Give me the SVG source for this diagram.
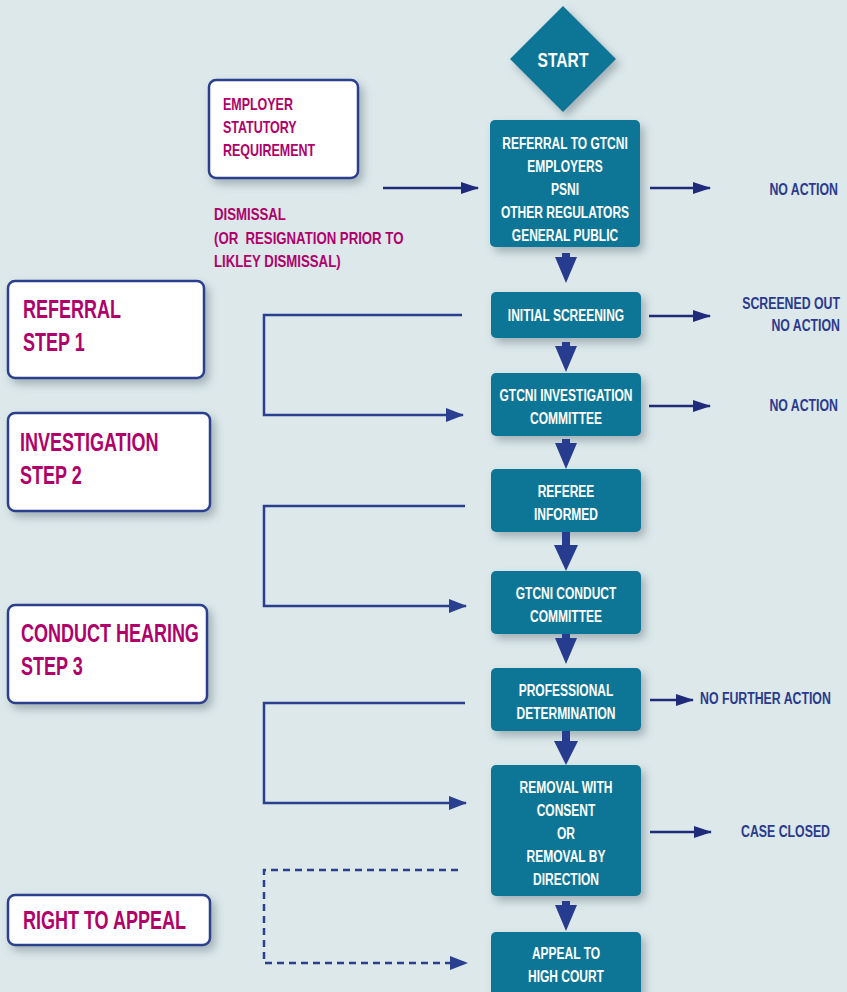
<svg xmlns="http://www.w3.org/2000/svg" width="847" height="992" viewBox="0 0 847 992">
<defs>
<filter id="sh" x="-20%" y="-20%" width="150%" height="150%">
<feDropShadow dx="4" dy="5" stdDeviation="4" flood-color="#5a7078" flood-opacity="0.45"/>
</filter>
<marker id="ah" viewBox="0 0 18 12" refX="17" refY="6" markerWidth="18" markerHeight="12" markerUnits="userSpaceOnUse" orient="auto">
<path d="M0,0 L18,6 L0,12 Z" fill="#1f2b7a"/>
</marker>
<marker id="ab" viewBox="0 0 18 14" refX="17" refY="7" markerWidth="18" markerHeight="14" markerUnits="userSpaceOnUse" orient="auto">
<path d="M0,0 L18,7 L0,14 Z" fill="#2a3f8f"/>
</marker>
<path id="dn" d="M-4,0 L4,0 L4,4 L11,4 L0,30 L-11,4 L-4,4 Z"/>
<style>
.t{font-family:"Liberation Sans",Arial,sans-serif;font-weight:bold;}
.tb{fill:#0b7696;filter:url(#sh);}
.tw{fill:#ffffff;font-size:16px;text-anchor:middle;}
.wb{fill:#ffffff;stroke:#2a3f8f;stroke-width:2.5;filter:url(#sh);}
.mg{fill:#b0006a;}
.nv{fill:#2b3a8c;font-size:16px;}
.ra{stroke:#1f2b7a;stroke-width:2.5;fill:none;marker-end:url(#ah);}
.br{stroke:#2a3f8f;stroke-width:2.5;fill:none;}
.dn{fill:#283c8f;}
</style>
</defs>
<rect width="847" height="992" fill="#dce8ea"/>

<g id="start">
<path d="M563,6 L616,59 L563,112 L510,59 Z" class="tb"/>
<text transform="translate(563,67) scale(0.78,1)" class="t tw" style="font-size:20px">START</text>
</g>

<g id="referral">
<rect x="490" y="120" width="150" height="127" rx="5" class="tb"/>
<text transform="translate(565,0) scale(0.75,1)" class="t tw"><tspan x="0" y="149">REFERRAL TO GTCNI</tspan><tspan x="0" y="172">EMPLOYERS</tspan><tspan x="0" y="195">PSNI</tspan><tspan x="0" y="218">OTHER REGULATORS</tspan><tspan x="0" y="241">GENERAL PUBLIC</tspan></text>
</g>

<g id="screening">
<rect x="491" y="292" width="150" height="46" rx="5" class="tb"/>
<text transform="translate(566,321) scale(0.75,1)" class="t tw">INITIAL SCREENING</text>
</g>

<g id="investigation">
<rect x="491" y="373" width="150" height="63" rx="5" class="tb"/>
<text transform="translate(566,0) scale(0.75,1)" class="t tw"><tspan x="0" y="401">GTCNI INVESTIGATION</tspan><tspan x="0" y="424">COMMITTEE</tspan></text>
</g>

<g id="referee">
<rect x="491" y="469" width="150" height="63" rx="5" class="tb"/>
<text transform="translate(566,0) scale(0.75,1)" class="t tw"><tspan x="0" y="497">REFEREE</tspan><tspan x="0" y="520">INFORMED</tspan></text>
</g>

<g id="conduct">
<rect x="491" y="571" width="150" height="63" rx="5" class="tb"/>
<text transform="translate(566,0) scale(0.75,1)" class="t tw"><tspan x="0" y="599">GTCNI CONDUCT</tspan><tspan x="0" y="622">COMMITTEE</tspan></text>
</g>

<g id="determination">
<rect x="491" y="668" width="150" height="63" rx="5" class="tb"/>
<text transform="translate(566,0) scale(0.75,1)" class="t tw"><tspan x="0" y="696">PROFESSIONAL</tspan><tspan x="0" y="719">DETERMINATION</tspan></text>
</g>

<g id="removal">
<rect x="491" y="765" width="150" height="131" rx="5" class="tb"/>
<text transform="translate(566,0) scale(0.75,1)" class="t tw"><tspan x="0" y="793">REMOVAL WITH</tspan><tspan x="0" y="816">CONSENT</tspan><tspan x="0" y="839">OR</tspan><tspan x="0" y="862">REMOVAL BY</tspan><tspan x="0" y="885">DIRECTION</tspan></text>
</g>

<g id="appeal">
<rect x="491" y="932" width="150" height="70" rx="5" class="tb"/>
<text transform="translate(566,0) scale(0.75,1)" class="t tw"><tspan x="0" y="959">APPEAL TO</tspan><tspan x="0" y="982">HIGH COURT</tspan></text>
</g>

<g id="employer">
<rect x="209" y="80" width="149" height="98" rx="7" class="wb"/>
<text transform="translate(223,0) scale(0.78,1)" class="t mg" style="font-size:16px"><tspan x="0" y="110">EMPLOYER</tspan><tspan x="0" y="133">STATUTORY</tspan><tspan x="0" y="156">REQUIREMENT</tspan></text>
</g>

<g id="dismissal">
<text transform="translate(214,0) scale(0.8,1)" class="t mg" style="font-size:16.5px" xml:space="preserve"><tspan x="0" y="220">DISMISSAL</tspan><tspan x="0" y="244">(OR  RESIGNATION PRIOR TO</tspan><tspan x="0" y="267">LIKLEY DISMISSAL)</tspan></text>
</g>

<g id="step1">
<rect x="8" y="281" width="196" height="97" rx="7" class="wb"/>
<text transform="translate(23,0) scale(0.72,1)" class="t mg" style="font-size:25px"><tspan x="0" y="318">REFERRAL</tspan><tspan x="0" y="351">STEP 1</tspan></text>
</g>

<g id="step2">
<rect x="8" y="413" width="202" height="98" rx="7" class="wb"/>
<text transform="translate(20,0) scale(0.72,1)" class="t mg" style="font-size:25px"><tspan x="0" y="451">INVESTIGATION</tspan><tspan x="0" y="484">STEP 2</tspan></text>
</g>

<g id="step3">
<rect x="8" y="605" width="199" height="98" rx="7" class="wb"/>
<text transform="translate(21,0) scale(0.72,1)" class="t mg" style="font-size:25px"><tspan x="0" y="642">CONDUCT HEARING</tspan><tspan x="0" y="675">STEP 3</tspan></text>
</g>

<g id="rightappeal">
<rect x="8" y="895" width="202" height="50" rx="7" class="wb"/>
<text transform="translate(23,929) scale(0.72,1)" class="t mg" style="font-size:25px">RIGHT TO APPEAL</text>
</g>

<g id="outcomes" class="t nv">
<text transform="translate(838,195) scale(0.77,1)" text-anchor="end">NO ACTION</text>
<text transform="translate(840,309) scale(0.77,1)" text-anchor="end">SCREENED OUT</text>
<text transform="translate(840,331) scale(0.77,1)" text-anchor="end">NO ACTION</text>
<text transform="translate(838,411) scale(0.77,1)" text-anchor="end">NO ACTION</text>
<text transform="translate(700,704) scale(0.77,1)">NO FURTHER ACTION</text>
<text transform="translate(830,837) scale(0.77,1)" text-anchor="end">CASE CLOSED</text>
</g>

<g id="connectors">
<use href="#dn" x="566" y="253" class="dn"/>
<use href="#dn" x="566" y="342" class="dn"/>
<use href="#dn" x="566" y="439" class="dn"/>
<path d="M562,532 L570,532 L570,545 L578,545 L566,571 L554,545 L562,545 Z" class="dn"/>
<use href="#dn" x="566" y="634" class="dn"/>
<path d="M562,731 L570,731 L570,741 L578,741 L566,765 L554,741 L562,741 Z" class="dn"/>
<use href="#dn" x="566" y="901" class="dn"/>

<line x1="383" y1="188" x2="478" y2="188" class="ra"/>
<line x1="650" y1="188" x2="710" y2="188" class="ra"/>
<line x1="649" y1="316" x2="710" y2="316" class="ra"/>
<line x1="649" y1="406" x2="710" y2="406" class="ra"/>
<line x1="650" y1="700" x2="693" y2="700" class="ra"/>
<line x1="650" y1="832" x2="711" y2="832" class="ra"/>

<path d="M462,315 L264,315 L264,415 L463,415" class="br" marker-end="url(#ab)"/>
<path d="M465,506 L264,506 L264,606 L466,606" class="br" marker-end="url(#ab)"/>
<path d="M465,703 L264,703 L264,803 L466,803" class="br" marker-end="url(#ab)"/>
<path d="M458,870 L264,870 L264,963 L467,963" class="br" stroke-dasharray="7,5" marker-end="url(#ab)"/>
</g>
</svg>
